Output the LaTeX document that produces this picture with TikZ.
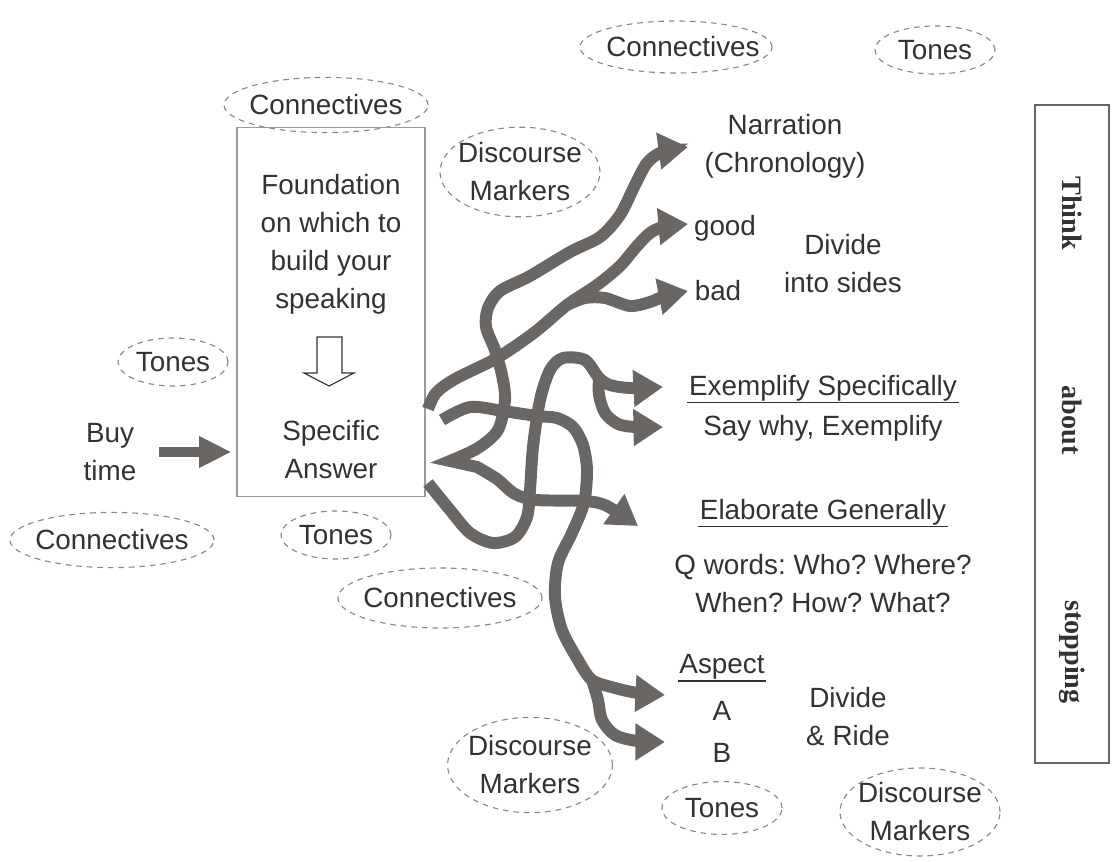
\documentclass[tikz,border=0pt]{standalone}
\usepackage{fontspec}
\setmainfont{Liberation Sans}
\newfontfamily\thinkfont{Liberation Serif}
\frenchspacing
\usetikzlibrary{arrows.meta,shapes.geometric}
\definecolor{inkgray}{RGB}{50,50,50}
\definecolor{roadgray}{RGB}{106,102,100}
\definecolor{dashgray}{RGB}{135,135,135}
\tikzset{
  txt/.style={font=\fontsize{19.8}{27}\selectfont, text=inkgray, align=center, inner sep=1pt},
  bubble/.style={draw=dashgray, line width=0.8pt, dash pattern=on 4pt off 3.5pt},
  road/.style={draw=roadgray, line width=8.5pt, line join=round, -{Triangle[length=21pt,width=25pt]}},
  uline/.style={draw=inkgray, line width=1.1pt},
}

\begin{document}
\begin{tikzpicture}[x=0.025cm, y=-0.025cm]
  \useasboundingbox (0,0) rectangle (1114,862);

  % dashed bubbles
  \node[txt] (con1) at (683,47) {Connectives};
  \draw[bubble] (676,47) ellipse [x radius=2.4cm, y radius=0.65cm];
  \node[txt] (ton1) at (935,50) {Tones};
  \draw[bubble] (ton1.center) ellipse [x radius=1.5cm, y radius=0.6cm];
  \node[txt] (con2) at (326,105) {Connectives};
  \draw[bubble] (con2.center) ellipse [x radius=2.55cm, y radius=0.69cm];
  \node[txt] (dis1) at (520,172) {Discourse\\Markers};
  \draw[bubble] (dis1.center) ellipse [x radius=2cm, y radius=1.12cm];
  \node[txt] (ton2) at (173,362) {Tones};
  \draw[bubble] (ton2.center) ellipse [x radius=1.375cm, y radius=0.6cm];
  \node[txt] (con3) at (112,540) {Connectives};
  \draw[bubble] (con3.center) ellipse [x radius=2.55cm, y radius=0.69cm];
  \node[txt] (ton3) at (336,535) {Tones};
  \draw[bubble] (ton3.center) ellipse [x radius=1.375cm, y radius=0.6cm];
  \node[txt] (con4) at (440,598) {Connectives};
  \draw[bubble] (con4.center) ellipse [x radius=2.55cm, y radius=0.75cm];
  \node[txt] (dis2) at (530,765) {Discourse\\Markers};
  \draw[bubble] (dis2.center) ellipse [x radius=2.06cm, y radius=1.19cm];
  \node[txt] (ton4) at (722,808) {Tones};
  \draw[bubble] (ton4.center) ellipse [x radius=1.5cm, y radius=0.66cm];
  \node[txt] (dis3) at (920,812) {Discourse\\Markers};
  \draw[bubble] (dis3.center) ellipse [x radius=2cm, y radius=1.1cm];

  % foundation box
  \node[draw=black!40, line width=0.8pt, minimum width=4.7cm, minimum height=9.225cm] (found) at (331,312) {};
  \node[txt] (basis) at (331,244) {Foundation\\on which to\\build your\\speaking};
  \draw[draw=inkgray, line width=0.8pt, line join=miter]
    (317,337) -- (342,337) -- (342,373) -- (354,373) -- (329,386) -- (304,373) -- (317,373) -- cycle;
  \node[txt] (answer) at (331,450) {Specific\\Answer};

  \node[txt] (buy) at (110,452) {Buy\\time};
  \draw[draw=roadgray, line width=7pt, -{Triangle[length=23pt,width=21pt]},
    shorten <=0.53cm, shorten >=0.125cm] (buy.east) -- (buy.east -| found.west);

  % targets
  \node[txt] (narr) at (785,146) {Narration\\(Chronology)};
  \node[txt] (good) at (725,228) {good};
  \node[txt] (bad) at (718,291) {bad};
  \node[txt] (sides) at (843,264) {Divide\\into sides};
  \node[txt] (exs) at (823,388) {Exemplify Specifically};
  \draw[uline] (exs.south west) -- (exs.south east);
  \node[txt] (why) at (823,428) {Say why, Exemplify};
  \node[txt] (ela) at (823,512) {Elaborate Generally};
  \draw[uline] (ela.south west) -- (ela.south east);
  \node[txt] (qw) at (823,584) {Q words: Who? Where?\\When? How? What?};
  \node[txt] (asp) at (722,667) {Aspect};
  \draw[uline] (asp.south west) -- (asp.south east);
  \node[txt] (ptA) at (722,711) {A};
  \node[txt] (ptB) at (722,753) {B};
  \node[txt] (ride) at (848,717) {Divide\\\& Ride};

  % think box
  \node[draw=black!60, line width=1pt, minimum width=1.85cm, minimum height=16.45cm] (frame) at (1072,434) {};
  \node[txt, font=\thinkfont\bfseries\fontsize{20}{27}\selectfont, rotate=-90] (think) at (1072,213) {Think};
  \node[txt, font=\thinkfont\bfseries\fontsize{20}{27}\selectfont, rotate=-90] (about) at (1072,420) {about};
  \node[txt, font=\thinkfont\bfseries\fontsize{20}{27}\selectfont, rotate=-90] (stop) at (1072,652) {stopping};

  % tangled roads
  \coordinate (forkgb) at (567,305);
  \coordinate (forkex) at (599,378);
  \coordinate (forkab) at (592,680);
  \draw[road, {Triangle[length=21pt,width=25pt]}-{Triangle[length=21pt,width=25pt]}, line join=miter]
    plot[smooth] coordinates {(688,147) (662,152) (647,163) (635,185) (620,215) (600,237) (570,252)
      (530,276) (500,291) (488,308) (486,327) (495,350) (502,375) (505,400) (498,430) (478,448) (450,461)}
    -- plot[smooth] coordinates {(477,467) (497,479) (515,494) (537,500) (585,501) (607,506) (638,526)};
  \draw[road] plot[smooth] coordinates {(428,409) (436,393) (455,379) (497,358) (535,332) (forkgb)
      (597,285) (620,266) (637,246) (650,233) (663,227) (688,224)};
  \draw[road] plot[smooth] coordinates {(forkgb) (585,298) (605,298) (630,306) (650,302) (665,296) (688,291)};
  \draw[road] plot[smooth] coordinates {(428,483) (450,510) (470,533) (493,543) (515,537) (527,517)
      (530,490) (533,447) (540,400) (550,370) (563,358) (585,360) (forkex) (610,385) (630,388) (663,387)};
  \draw[road] plot[smooth] coordinates {(forkex) (599,395) (605,413) (618,424) (635,427) (663,427)};
  \draw[road] plot[smooth] coordinates {(442,420) (470,407) (503,411) (537,416) (557,418) (573,427)
      (583,445) (587,470) (584,503) (572,533) (558,563) (555,597) (562,630) (578,660) (forkab)
      (615,688) (638,693) (665,695)};
  \draw[road] plot[smooth] coordinates {(forkab) (598,700) (602,720) (615,735) (637,741) (665,742)};
\end{tikzpicture}
\end{document}
